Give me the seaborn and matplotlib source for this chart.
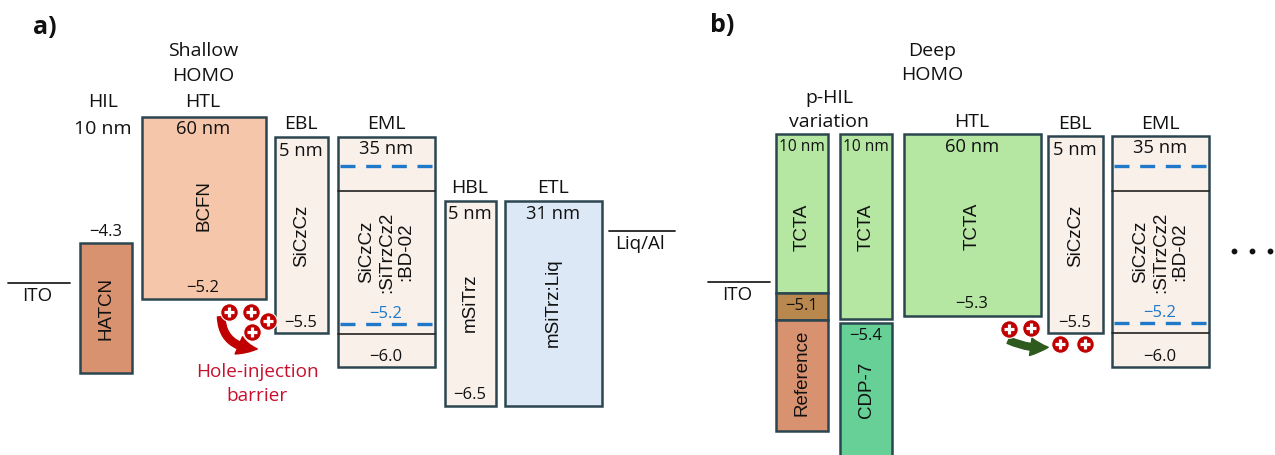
import seaborn as sns
import matplotlib.pyplot as plt
from matplotlib.patches import FancyArrowPatch

# layer boxes (diagram units: x to the right, y downward like the original slide)
layer_names = ["HATCN", "BCFN", "SiCzCz", "SiCzCz\n:SiTrzCz2\n:BD-02", "mSiTrz", "mSiTrz:Liq",
               "TCTA", "", "Reference", "TCTA", "CDP-7", "TCTA", "SiCzCz", "SiCzCz\n:SiTrzCz2\n:BD-02"]
x_left = [80, 142, 275, 338, 445, 505, 776, 776, 776, 840, 840, 904, 1048, 1112]
x_right = [132, 266, 328, 435, 496, 602, 828, 828, 828, 892, 892, 1041, 1103, 1209]
y_top = [243, 117, 137, 137, 201, 201, 134, 293, 320, 134, 323, 134, 136, 136]
y_bottom = [373, 299, 333, 367, 406, 406, 293, 320, 431, 319, 470, 316, 333, 367]
name_y = [308, 206, 236, 252, 303, 303, 227, 0, 373, 227, 390, 226, 236, 252]
fills = ["#d9926f", "#f5c6a9", "#f9f0ea", "#f9f0ea", "#f9f0ea", "#dce8f5",
         "#b5e6a2", "#b9884e", "#d9926f", "#b5e6a2", "#66d096", "#b5e6a2", "#f9f0ea", "#f9f0ea"]

# energy level labels
level_text = ["−4.3", "−5.2", "−5.5", "−6.0", "−6.5", "−5.1", "−5.4", "−5.3", "−5.5", "−6.0"]
level_x = [106, 203, 301, 386, 470, 802, 866, 972, 1075, 1160]
level_y = [232, 288, 323, 357, 395, 306, 336, 304, 323, 357]
dopant_text = ["−5.2", "−5.2"]
dopant_x = [386, 1160]
dopant_y = [314, 313]

# thickness labels inside boxes
thick_text = ["60 nm", "5 nm", "35 nm", "5 nm", "31 nm", "10 nm", "10 nm", "60 nm", "5 nm", "35 nm"]
thick_x = [203, 301, 386, 470, 553, 802, 866, 972, 1075, 1160]
thick_y = [129, 151, 149, 214, 214, 147, 147, 147, 150, 148]

# headers above boxes
head_text = ["HIL", "10 nm", "Shallow", "HOMO", "HTL", "EBL", "EML", "HBL", "ETL",
             "Deep", "HOMO", "p-HIL", "variation", "HTL", "EBL", "EML"]
head_x = [103, 103, 203, 203, 203, 301, 386, 470, 553, 932, 932, 829, 829, 972, 1075, 1160]
head_y = [102, 129, 51, 76, 102, 124, 124, 188, 188, 51, 75, 98, 122, 122, 124, 124]

# electrodes
electrode_names = ["ITO", "Liq/Al", "ITO"]
electrode_x0 = [8, 609, 708]
electrode_x1 = [70, 675, 770]
electrode_y = [283, 231, 282]

# EML internal lines
eml_x0 = [338, 1112]
eml_x1 = [435, 1209]
host_line_y = [191, 334, 191, 333]
dopant_line_y = [166, 324, 166, 323]

# holes
hole_x = [229, 251, 268, 252, 1009, 1031, 1060, 1085]
hole_y = [312, 312, 321, 332, 329, 328, 344, 344]

sns.set_theme(style="white")
plt.rcParams['font.family'] = ['Open Sans', 'DejaVu Sans']

fig = plt.figure(figsize=(12.75, 4.55), dpi=100)
ax = fig.add_axes([0, 0, 1, 1])
ax.set_xlim(0, 1275)
ax.set_ylim(455, 0)
ax.axis("off")

edge = "#2b4650"
widths = [r - l for l, r in zip(x_left, x_right)]
heights = [b - t for t, b in zip(y_top, y_bottom)]
ax.bar(x_left, heights, width=widths, bottom=y_top, align="edge",
       color=fills, edgecolor=edge, linewidth=1.8, zorder=2)

for i, name in enumerate(layer_names):
    if name:
        ax.text((x_left[i] + x_right[i]) / 2, name_y[i], name, rotation=90,
                ha="center", va="center", multialignment="center",
                fontsize=13.5, family="Liberation Sans", color="#111", zorder=4,
                linespacing=1.2)

for i in range(len(eml_x0)):
    for y in host_line_y[2 * i:2 * i + 2]:
        ax.plot([eml_x0[i], eml_x1[i]], [y, y], color="#222", lw=1.2, zorder=3)
    for y in dopant_line_y[2 * i:2 * i + 2]:
        ax.plot([eml_x0[i] + 2, eml_x1[i] - 2], [y, y], color="#1f78c8", lw=2.4,
                dashes=(4.5, 3.2), zorder=3)

for t, x, y in zip(level_text, level_x, level_y):
    ax.text(x, y, t, ha="center", va="center", fontsize=12, color="#111", zorder=4)
for t, x, y in zip(dopant_text, dopant_x, dopant_y):
    ax.text(x, y, t, ha="center", va="center", fontsize=12, color="#1f78c8", zorder=4)
for t, x, y in zip(thick_text, thick_x, thick_y):
    fs = 11.2 if t == "10 nm" and x > 700 else 13.2
    ax.text(x, y, t, ha="center", va="center", fontsize=fs, color="#111", zorder=4)
for t, x, y in zip(head_text, head_x, head_y):
    ax.text(x, y, t, ha="center", va="center", fontsize=14, color="#111")

for name, x0, x1, y in zip(electrode_names, electrode_x0, electrode_x1, electrode_y):
    ax.plot([x0, x1], [y, y], color="#222", lw=1.3)
    ax.text((x0 + x1) / 2 - 2, y + 13, name, ha="center", va="center", fontsize=13.5, color="#111")

# holes
ax.scatter(hole_x, hole_y, s=160, color="#c00000", edgecolor="white", linewidth=0.8, zorder=6)
ax.scatter(hole_x, hole_y, s=60, marker="+", color="white", linewidth=2.3, zorder=7)

# arrows
ax.add_patch(FancyArrowPatch((221, 314), (260, 349), connectionstyle="angle3,angleA=90,angleB=0",
                             arrowstyle="simple,head_length=0.9,head_width=0.9,tail_width=0.35",
                             mutation_scale=15, color="#c00000", zorder=5))
ax.add_patch(FancyArrowPatch((1006, 339), (1051, 347), connectionstyle="arc3,rad=0.15",
                             arrowstyle="simple,head_length=0.9,head_width=0.9,tail_width=0.35",
                             mutation_scale=14, color="#2f5a1e", zorder=5))

ax.text(257, 372, "Hole-injection", ha="center", va="center", fontsize=13.7, color="#c8102e")
ax.text(257, 396, "barrier", ha="center", va="center", fontsize=13.7, color="#c8102e")

ax.text(45, 27, "a)", ha="center", va="center", fontsize=18, fontweight="bold", color="#111")
ax.text(722, 26, "b)", ha="center", va="center", fontsize=18, fontweight="bold", color="#111")

ax.scatter([1234, 1252, 1270], [251, 251, 251], s=10, color="#111")

fig.savefig("out.png", dpi=100)
